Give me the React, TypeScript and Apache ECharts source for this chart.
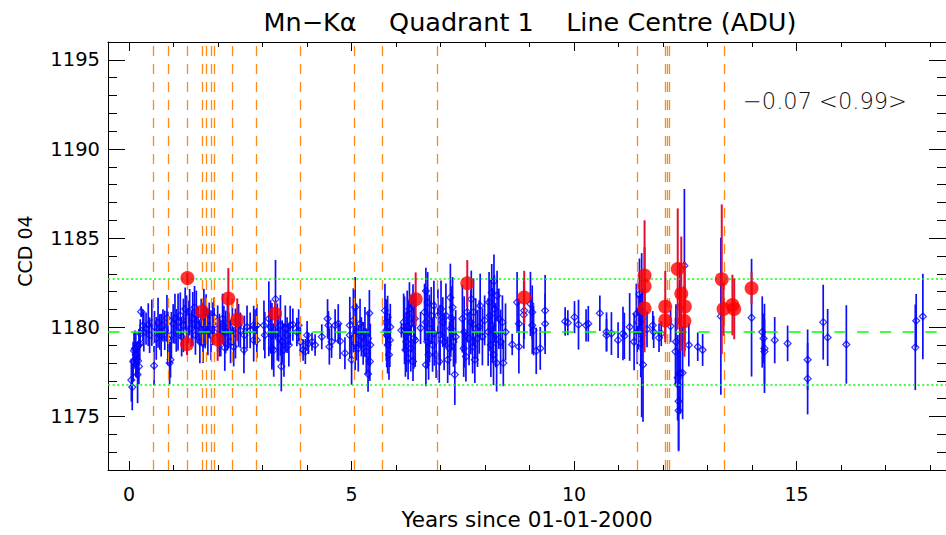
import { useEffect, useRef } from "react";
import * as echarts from "echarts";

const FONT = '"DejaVu Sans", "Liberation Sans", sans-serif';

// Axis ranges and tick positions
const X_MIN = -0.475;
const X_MAX = 18.36;
const Y_MIN = 1172;
const Y_MAX = 1196;
const xMajorTicks = [0, 5, 10, 15];
const xMinorTicks = [1, 2, 3, 4, 6, 7, 8, 9, 11, 12, 13, 14, 16, 17, 18];
const yMajorTicks = [1175, 1180, 1185, 1190, 1195];
const yMinorTicks = [
  1173, 1174, 1176, 1177, 1178, 1179, 1181, 1182, 1183, 1184, 1186, 1187,
  1188, 1189, 1191, 1192, 1193, 1194,
];

// Instrument events (years since 2000-01-01)
const eventYears = [
  0.536, 0.871, 1.31, 1.652, 1.741, 1.853, 1.906, 2.315, 2.85, 3.855, 5.054,
  5.69, 6.935, 11.415, 12.04, 12.085, 12.152, 13.37,
];

// Mean level and 3-sigma band
const meanLevel = 1179.77;
const upperBand = 1182.74;
const lowerBand = 1176.8;
const trendText = "\u22120.07 <0.99>";

// Regular calibration measurements: [year, line centre, error]
const blueObs: [number, number, number][] = [
  [0.05, 1177.04, 1.2], [0.07, 1176.65, 1.3], [0.09, 1178.09, 1.1], [0.11, 1178.68, 1.0],
  [0.13, 1178.82, 1.0], [0.15, 1178.46, 1.2], [0.16, 1178.18, 1.0], [0.2, 1178.12, 1.1],
  [0.19, 1177.35, 1.6], [0.22, 1177.81, 1.0], [0.24, 1179.1, 0.9], [0.27, 1180.88, 0.3],
  [0.25, 1179.65, 0.8], [0.31, 1180.1, 0.9], [0.22, 1179.0, 0.9],
  [0.33, 1179.74, 1.1], [0.38, 1179.93, 0.9], [0.43, 1180.15, 1.2], [0.46, 1179.56, 1.0],
  [0.51, 1180.26, 1.3], [0.56, 1177.85, 1.1], [0.57, 1180.02, 0.9], [0.61, 1179.38, 1.2],
  [0.65, 1180.26, 1.4], [0.69, 1179.74, 1.0], [0.72, 1179.56, 1.2], [0.76, 1180.11, 0.9],
  [0.8, 1179.83, 1.1], [0.85, 1180.51, 1.3], [0.87, 1179.38, 1.5], [0.91, 1178.0, 1.2],
  [0.93, 1178.18, 1.0], [0.95, 1179.56, 1.3], [0.99, 1180.2, 1.1], [1.03, 1180.48, 1.4],
  [1.06, 1179.83, 1.2], [1.1, 1180.3, 1.6], [1.15, 1180.66, 1.3], [1.18, 1179.47, 1.1],
  [1.22, 1180.11, 1.5], [1.26, 1181.03, 1.2], [1.29, 1180.39, 1.4],
  [1.33, 1180.3, 1.2], [1.36, 1180.85, 1.3], [1.4, 1179.93, 1.0], [1.43, 1180.48, 1.5],
  [1.47, 1181.12, 1.2], [1.49, 1179.56, 1.1], [1.51, 1180.66, 1.4], [1.55, 1180.11, 1.0],
  [1.59, 1179.19, 1.2], [1.62, 1180.3, 1.3], [1.66, 1179.1, 1.1], [1.68, 1180.57, 1.6],
  [1.71, 1180.02, 1.2], [1.73, 1180.75, 1.1], [1.77, 1179.74, 1.3], [1.8, 1180.39, 1.0],
  [1.84, 1179.56, 1.4], [1.88, 1180.2, 1.2], [1.91, 1180.57, 1.1], [1.99, 1179.93, 1.3],
  [2.03, 1179.56, 1.2], [2.06, 1179.38, 1.0], [2.1, 1180.48, 1.4], [2.13, 1180.11, 1.1],
  [2.15, 1178.86, 1.3], [2.17, 1179.74, 1.2], [2.21, 1180.2, 1.5], [2.24, 1179.83, 1.0],
  [2.28, 1179.19, 1.2], [2.32, 1180.3, 1.3], [2.35, 1178.91, 1.1], [2.39, 1179.65, 1.4],
  [2.46, 1180.11, 1.2], [2.5, 1179.83, 1.0], [2.58, 1178.73, 1.3], [2.59, 1179.56, 1.1],
  [2.65, 1180.02, 1.2], [2.72, 1179.83, 1.0], [2.8, 1179.28, 1.2], [2.8, 1180.11, 1.1],
  [2.83, 1180.02, 1.0],
  [2.87, 1180.11, 1.2], [2.87, 1179.28, 1.0], [3.03, 1180.11, 1.4], [3.05, 1179.56, 1.3],
  [3.14, 1180.48, 2.1], [3.18, 1180.02, 1.5], [3.21, 1179.56, 1.8], [3.21, 1178.82, 1.2],
  [3.25, 1178.73, 1.5], [3.29, 1181.58, 2.2], [3.33, 1179.74, 1.6], [3.36, 1179.38, 1.3],
  [3.4, 1180.11, 1.7], [3.42, 1177.81, 1.4], [3.44, 1179.19, 1.2], [3.48, 1178.73, 1.5],
  [3.51, 1179.93, 1.3], [3.55, 1179.56, 1.0], [3.59, 1179.01, 1.2], [3.62, 1180.11, 1.1],
  [3.68, 1180.15, 0.9], [3.77, 1179.74, 0.8], [3.81, 1180.11, 0.9], [3.85, 1179.19, 0.8],
  [3.91, 1178.73, 0.6], [3.96, 1178.64, 0.7], [4.0, 1179.56, 0.8], [4.03, 1179.1, 0.6],
  [4.11, 1179.19, 0.5], [4.18, 1179.01, 0.6], [4.33, 1179.47, 0.7], [4.46, 1180.48, 1.1],
  [4.48, 1180.11, 0.8], [4.5, 1178.91, 1.0], [4.55, 1179.19, 0.9], [4.63, 1180.11, 0.9],
  [4.7, 1180.2, 1.1], [4.74, 1179.23, 1.0], [4.85, 1178.55, 0.9], [4.96, 1180.11, 1.6],
  [4.96, 1179.56, 1.3], [5.0, 1178.18, 1.4], [5.04, 1180.39, 1.8], [5.08, 1181.12, 1.7],
  [5.08, 1179.1, 1.5], [5.11, 1179.74, 1.6], [5.15, 1178.82, 1.3], [5.19, 1180.2, 1.4],
  [5.22, 1179.47, 1.1], [5.26, 1179.1, 1.2], [5.3, 1179.74, 1.4], [5.33, 1178.64, 1.3],
  [5.37, 1177.39, 1.0], [5.37, 1179.38, 1.5], [5.4, 1180.79, 1.3], [5.41, 1178.09, 1.1],
  [5.42, 1179.01, 1.2],
  [5.75, 1180.94, 1.5], [5.77, 1180.29, 1.3], [5.79, 1179.56, 1.8], [5.81, 1179.01, 1.6],
  [5.84, 1178.46, 1.4], [5.81, 1180.57, 1.2], [5.86, 1179.28, 1.5], [5.78, 1179.83, 1.7],
  [5.87, 1180.02, 1.3], [6.12, 1179.83, 0.4],
  [6.17, 1180.29, 1.6], [6.19, 1179.83, 1.9], [6.21, 1178.73, 1.5], [6.23, 1179.19, 1.7],
  [6.25, 1180.66, 1.4], [6.27, 1178.27, 1.2], [6.28, 1179.74, 1.8], [6.3, 1181.03, 1.5],
  [6.33, 1178.82, 1.3], [6.34, 1180.2, 1.6], [6.38, 1178.09, 1.1], [6.4, 1179.38, 1.7],
  [6.42, 1180.48, 1.4], [6.38, 1181.21, 1.2], [6.55, 1179.96, 0.9], [6.43, 1179.28, 1.5],
  [6.64, 1180.85, 1.6], [6.67, 1182.04, 1.3], [6.67, 1180.29, 1.8], [6.7, 1179.19, 1.5],
  [6.71, 1181.4, 1.7], [6.73, 1178.46, 1.4], [6.67, 1177.9, 1.2], [6.75, 1179.93, 1.9],
  [6.79, 1180.66, 1.6], [6.82, 1179.01, 1.5], [6.85, 1181.21, 1.4], [6.86, 1179.65, 1.8],
  [6.9, 1178.46, 1.3], [6.94, 1180.66, 1.5], [6.97, 1178.09, 1.2], [6.99, 1179.56, 1.7],
  [7.01, 1181.03, 1.6], [7.05, 1180.29, 1.4],
  [7.08, 1179.19, 1.6], [7.12, 1180.66, 1.8], [7.16, 1178.18, 1.3], [7.2, 1178.82, 1.5],
  [7.22, 1181.67, 1.9], [7.23, 1179.93, 1.6], [7.27, 1181.12, 1.7], [7.29, 1179.19, 1.4],
  [7.32, 1177.35, 1.7], [7.34, 1179.47, 1.5], [7.25, 1180.51, 1.8],
  [7.49, 1180.48, 1.9], [7.52, 1178.82, 1.6], [7.53, 1179.74, 2.0], [7.57, 1178.36, 1.4],
  [7.6, 1180.85, 1.7], [7.64, 1179.38, 1.5], [7.68, 1180.29, 1.8], [7.69, 1181.58, 1.6],
  [7.72, 1178.91, 1.5], [7.74, 1180.85, 1.9], [7.77, 1178.18, 1.3], [7.79, 1179.93, 1.7],
  [7.83, 1179.38, 1.6], [7.87, 1180.02, 1.5], [7.89, 1181.21, 1.8], [7.94, 1179.47, 1.6],
  [7.99, 1180.39, 1.4],
  [8.07, 1179.74, 1.9], [8.09, 1181.4, 1.7], [8.11, 1180.66, 2.0], [8.13, 1179.01, 1.8],
  [8.15, 1181.95, 1.6], [8.16, 1180.11, 2.1], [8.19, 1178.46, 1.7], [8.2, 1182.59, 1.5],
  [8.21, 1181.03, 1.9], [8.24, 1179.56, 1.8], [8.26, 1178.0, 1.6], [8.27, 1181.77, 1.4],
  [8.31, 1180.48, 1.7], [8.35, 1179.19, 1.8], [8.39, 1180.29, 1.5], [8.41, 1178.0, 1.3],
  [8.46, 1179.74, 1.6], [8.61, 1179.04, 0.6], [8.72, 1181.4, 1.7], [8.76, 1178.91, 1.5],
  [8.76, 1180.2, 1.4], [8.87, 1180.7, 1.9], [8.88, 1180.94, 1.6], [9.02, 1181.31, 1.8],
  [9.06, 1180.85, 1.5], [9.06, 1180.11, 1.6], [9.09, 1179.83, 1.4], [9.15, 1178.68, 1.3],
  [9.24, 1178.82, 1.2], [9.35, 1180.94, 2.0], [9.35, 1180.2, 1.7],
  [9.8, 1180.33, 0.8], [9.86, 1180.26, 0.7], [10.01, 1180.57, 0.9], [10.1, 1180.15, 1.4],
  [10.27, 1180.11, 0.9], [10.32, 1180.2, 1.0], [10.58, 1180.79, 1.0], [10.73, 1179.74, 1.1],
  [10.73, 1179.56, 0.9], [10.84, 1179.65, 1.2], [10.99, 1179.28, 1.0], [11.1, 1179.65, 1.5],
  [11.13, 1179.52, 1.3], [11.25, 1180.02, 1.9], [11.35, 1179.19, 1.6], [11.4, 1180.75, 1.7],
  [11.42, 1179.74, 1.8], [11.44, 1180.26, 1.5], [11.47, 1181.86, 2.0], [11.49, 1180.29, 1.6],
  [11.5, 1179.1, 1.9], [11.52, 1179.56, 4.6], [11.53, 1180.48, 1.7], [11.55, 1177.9, 3.2],
  [11.64, 1179.89, 1.0], [11.77, 1180.11, 0.8], [11.79, 1179.74, 0.9], [11.91, 1179.41, 0.8],
  [11.96, 1179.65, 0.7], [12.17, 1180.07, 0.9], [12.28, 1178.64, 1.9], [12.29, 1179.19, 2.1],
  [12.33, 1177.17, 2.4], [12.35, 1175.85, 2.8], [12.37, 1177.41, 2.2], [12.38, 1181.12, 2.5],
  [12.35, 1175.33, 2.2], [12.33, 1176.8, 2.0], [12.39, 1177.45, 2.3], [12.44, 1177.45, 2.6],
  [12.48, 1183.46, 4.3], [12.58, 1179.01, 1.2], [12.78, 1178.91, 0.8], [12.89, 1178.73, 0.9],
  [13.3, 1180.62, 4.4], [13.99, 1180.54, 3.3], [14.23, 1179.74, 2.0], [14.26, 1179.38, 1.4],
  [14.28, 1178.82, 2.5], [14.28, 1178.64, 1.8], [14.51, 1179.28, 1.3], [14.8, 1179.1, 1.0],
  [15.25, 1178.18, 1.7], [15.25, 1177.12, 2.0], [15.6, 1180.29, 2.1], [15.7, 1179.43, 1.6],
  [16.12, 1179.04, 2.2], [17.67, 1178.88, 2.4], [17.69, 1180.37, 1.5], [17.84, 1180.61, 2.4],
];

// Measurements taken right after an event: [year, line centre, error]
const redObs: [number, number, number][] = [
  [1.31, 1182.76, 0.3], [1.3, 1179.05, 0.6], [1.64, 1180.88, 0.5], [1.99, 1179.32, 1.2],
  [2.23, 1181.62, 1.7], [2.43, 1180.42, 1.2], [3.28, 1180.76, 0.7], [6.44, 1181.58, 1.5],
  [7.6, 1182.47, 1.3], [8.88, 1181.67, 1.5], [11.585, 1182.9, 1.6], [11.585, 1182.3, 3.7],
  [11.585, 1181.06, 1.4], [12.05, 1181.16, 2.0], [12.05, 1180.39, 1.0], [12.33, 1183.27, 3.4],
  [12.41, 1181.89, 3.2], [12.49, 1181.17, 2.5], [12.48, 1180.35, 2.0], [13.32, 1182.69, 4.2],
  [13.36, 1181.03, 1.5], [13.56, 1181.25, 1.7], [13.6, 1181.03, 1.7], [13.99, 1182.19, 0.9],
];

const errorBars = (color: string, width: number) => (params: any, api: any) => {
  const x = api.value(0);
  const v = api.value(1);
  const e = api.value(2);
  const lo = api.coord([x, v - e]);
  const hi = api.coord([x, v + e]);
  return {
    type: "line",
    shape: { x1: lo[0], y1: lo[1], x2: hi[0], y2: hi[1] },
    style: { stroke: color, lineWidth: width },
  };
};

const plainNumber = (v: number) => String(Math.round(v));

function xAxisDef(position: "top" | "bottom", major: boolean) {
  return {
    type: "value",
    position,
    min: X_MIN,
    max: X_MAX,
    splitLine: { show: false },
    axisLine: { show: major, onZero: false, lineStyle: { color: "#000", width: 1 } },
    axisTick: {
      show: true,
      inside: true,
      length: major ? 9 : 5,
      customValues: major ? xMajorTicks : xMinorTicks,
      lineStyle: { color: "#000", width: 1 },
    },
    axisLabel: {
      show: major && position === "bottom",
      customValues: xMajorTicks,
      formatter: plainNumber,
      color: "#000",
      fontSize: 19,
      fontFamily: FONT,
      margin: 14,
    },
    ...(major && position === "bottom"
      ? {
          name: "Years since 01-01-2000",
          nameLocation: "middle",
          nameGap: 38,
          nameTextStyle: { color: "#000", fontSize: 21.5, fontFamily: FONT },
        }
      : {}),
  };
}

function yAxisDef(position: "left" | "right", major: boolean) {
  return {
    type: "value",
    position,
    min: Y_MIN,
    max: Y_MAX,
    splitLine: { show: false },
    axisLine: { show: major, onZero: false, lineStyle: { color: "#000", width: 1 } },
    axisTick: {
      show: true,
      inside: true,
      length: major ? 17 : 9,
      customValues: major ? yMajorTicks : yMinorTicks,
      lineStyle: { color: "#000", width: 1 },
    },
    axisLabel: {
      show: major && position === "left",
      customValues: yMajorTicks,
      formatter: plainNumber,
      color: "#000",
      fontSize: 19.5,
      fontFamily: FONT,
      margin: 8,
    },
  };
}

const option: any = {
  animation: false,
  backgroundColor: "#ffffff",
  grid: { left: 108, top: 42, right: -6, bottom: 59, containLabel: false },
  xAxis: [
    xAxisDef("bottom", true),
    xAxisDef("bottom", false),
    xAxisDef("top", true),
    xAxisDef("top", false),
  ],
  yAxis: [
    yAxisDef("left", true),
    yAxisDef("left", false),
    yAxisDef("right", true),
    yAxisDef("right", false),
  ],
  graphic: [
    {
      type: "text",
      x: 530,
      y: 22,
      style: {
        text: "Mn\u2212K\u03b1    Quadrant 1    Line Centre (ADU)",
        fill: "#000",
        font: `25.5px ${FONT}`,
        align: "center",
        verticalAlign: "middle",
      },
    },
    {
      type: "text",
      x: 25,
      y: 251,
      rotation: Math.PI / 2,
      style: {
        text: "CCD 04",
        fill: "#000",
        font: `19px ${FONT}`,
        align: "center",
        verticalAlign: "middle",
      },
    },
    {
      type: "text",
      x: 743,
      y: 101,
      style: {
        text: trendText,
        fill: "#111",
        font: `300 22.5px ${FONT}`,
        align: "left",
        verticalAlign: "middle",
      },
    },
  ],
  series: [
    {
      name: "events",
      type: "line",
      data: [],
      z: 1,
      markLine: {
        silent: true,
        symbol: ["none", "none"],
        label: { show: false },
        lineStyle: { color: "#ff8c1a", width: 1.3, type: [10, 8] },
        data: eventYears.map((v) => ({ xAxis: v })),
      },
    },
    {
      name: "blue-err",
      type: "custom",
      z: 2,
      data: blueObs,
      encode: { x: 0, y: 1 },
      renderItem: errorBars("#0d0dff", 1.7),
    },
    {
      name: "blue",
      type: "scatter",
      z: 3,
      data: blueObs.map((d) => [d[0], d[1]]),
      symbol: "diamond",
      symbolSize: 7,
      itemStyle: { color: "rgba(0,0,0,0)", borderColor: "#0000ff", borderWidth: 1.2 },
    },
    {
      name: "levels",
      type: "line",
      data: [],
      z: 4,
      markLine: {
        silent: true,
        symbol: ["none", "none"],
        label: { show: false },
        data: [
          { yAxis: meanLevel, lineStyle: { color: "#00ff00", width: 1.5, type: [11.5, 11.2] } },
          { yAxis: upperBand, lineStyle: { color: "#00ff00", width: 1.5, type: [2, 2.6] } },
          { yAxis: lowerBand, lineStyle: { color: "#00ff00", width: 1.5, type: [2, 2.6] } },
        ],
      },
    },
    {
      name: "red-err",
      type: "custom",
      z: 5,
      data: redObs,
      encode: { x: 0, y: 1 },
      renderItem: errorBars("#e0102e", 2),
    },
    {
      name: "red",
      type: "scatter",
      z: 6,
      data: redObs.map((d) => [d[0], d[1]]),
      symbol: "circle",
      symbolSize: 14,
      itemStyle: { color: "#ff0000" },
    },
  ],
};

export default function App() {
  const ref = useRef<HTMLDivElement>(null);
  useEffect(() => {
    const chart = echarts.init(ref.current!, null, { renderer: "svg" });
    chart.setOption(option);
    return () => chart.dispose();
  }, []);
  return (
    <div
      ref={ref}
      style={{ position: "fixed", left: 0, top: 0, width: 946, height: 535, background: "#fff" }}
    />
  );
}
